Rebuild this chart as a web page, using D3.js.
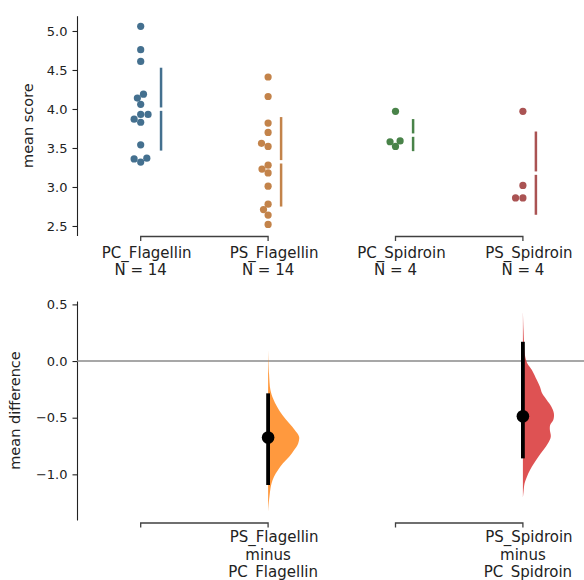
<!DOCTYPE html>
<html>
<head>
<meta charset="utf-8">
<script src="https://cdn.jsdelivr.net/npm/d3@7"></script>
<style>
  body { margin: 0; background: #fff; }
  text { font-family: "DejaVu Sans", sans-serif; fill: #222; }
</style>
</head>
<body>
<svg id="chart" width="584" height="580"></svg>
<script>
// ---- data -------------------------------------------------------------
const groups = ["PC_Flagellin", "PS_Flagellin", "PC_Spidroin", "PS_Spidroin"];
const pcFlagellin = [5.06, 4.76, 4.61, 4.19, 4.14, 4.06, 3.93, 3.93, 3.87, 3.83, 3.54, 3.37, 3.36, 3.32];
const psFlagellin = [4.41, 4.16, 3.82, 3.70, 3.56, 3.52, 3.28, 3.23, 3.18, 3.01, 2.78, 2.71, 2.64, 2.52];
const pcSpidroin = [3.97, 3.59, 3.58, 3.52];
const psSpidroin = [3.97, 3.02, 2.86, 2.86];
const groupValues = [pcFlagellin, psFlagellin, pcSpidroin, psSpidroin];
const groupColors = ["#1f77b4", "#ff7f0e", "#2ca02c", "#d62728"];

const rawTicks = [2.5, 3.0, 3.5, 4.0, 4.5, 5.0];
const rawLimits = [2.378, 5.196];
const diffTicks = [-1.0, -0.5, 0.0, 0.5];
const diffLimits = [-1.403, 0.53];

// control / test pairs (indices into groups)
const comparisons = [[0, 1], [2, 3]];
// 95% bootstrap confidence intervals of the mean difference
const ciLow = [-1.094, -0.859];
const ciHigh = [-0.285, 0.170];
// bootstrap distributions of the mean difference (relative density)
const flagDiffGrid = [0.10, -0.11, -0.256, -0.33, -0.403, -0.477, -0.55, -0.609, -0.668, -0.727,
  -0.786, -0.845, -0.903, -0.962, -1.021, -1.08, -1.168, -1.256, -1.33];
const flagDensity = [0, 0.03, 0.075, 0.16, 0.29, 0.46, 0.68, 0.86, 1.0, 0.97,
  0.84, 0.68, 0.48, 0.32, 0.19, 0.11, 0.055, 0.02, 0];
const spidDiffGrid = [0.435, 0.274, 0.141, 0.053, -0.02, -0.079, -0.168, -0.227, -0.285, -0.344,
  -0.403, -0.462, -0.521, -0.565, -0.609, -0.668, -0.726, -0.786, -0.845, -0.903,
  -0.962, -1.021, -1.079, -1.154, -1.21];
const spidDensity = [0, 0.02, 0.04, 0.065, 0.14, 0.29, 0.45, 0.55, 0.62, 0.77,
  0.92, 1.0, 0.98, 0.88, 0.87, 0.9, 0.81, 0.66, 0.5, 0.36,
  0.23, 0.13, 0.055, 0.02, 0];
const diffGrids = [flagDiffGrid, spidDiffGrid];
const diffDensities = [flagDensity, spidDensity];

// ---- layout -----------------------------------------------------------
const svg = d3.select("#chart");
const axisX = 77;
const x = d3.scalePoint().domain(groups).range([axisX, 586.6]).padding(0.5);
const yRaw = d3.scaleLinear().domain(rawLimits).range([235.5, 15.7]);
const yDiff = d3.scaleLinear().domain(diffLimits).range([520, 301]);
const fmt = d3.format(".1f");
const swarmColor = c => { const h = d3.hsl(c); h.s *= 0.5; return h.formatHex(); };
const dotR = 3.5;

function drawYAxis(scale, ticks, label, labelX) {
  const g = svg.append("g").attr("transform", `translate(${axisX},0)`)
    .call(d3.axisLeft(scale).tickValues(ticks).tickFormat(fmt).tickSize(4.5).tickPadding(5).tickSizeOuter(0));
  g.select(".domain").attr("stroke", "#222").attr("stroke-width", 1.1);
  g.selectAll(".tick line").attr("stroke", "#222").attr("stroke-width", 1.1);
  g.selectAll(".tick text").attr("font-size", 13).attr("fill", "#222")
    .style("font-family", "DejaVu Sans, sans-serif");
  const [r0, r1] = scale.range();
  svg.append("text")
    .attr("transform", `translate(${labelX},${(r0 + r1) / 2}) rotate(-90)`)
    .attr("text-anchor", "middle").attr("font-size", 14.5).text(label);
}

// seaborn-style beeswarm: points placed in ascending order, nearest free slot to the centre line
function beeswarm(values, yScale, r) {
  const sep = 2 * r;
  const order = d3.range(values.length).sort((a, b) => values[a] - values[b] || a - b);
  const placed = [];
  const out = new Array(values.length);
  order.forEach(i => {
    const y = yScale(values[i]);
    const nb = [];
    for (let k = placed.length - 1; k >= 0; k--) {
      if (Math.abs(placed[k].y - y) < sep) nb.unshift(placed[k]); else break;
    }
    const cands = [0];
    let leftFirst = true;
    nb.forEach(p => {
      const dy = y - p.y;
      const dx = Math.sqrt(Math.max(sep * sep - dy * dy, 0)) * 1.05;
      if (leftFirst) cands.push(p.x - dx, p.x + dx); else cands.push(p.x + dx, p.x - dx);
      leftFirst = !leftFirst;
    });
    const sorted = cands.map((cx, j) => ({ cx, j }))
      .sort((a, b) => Math.abs(a.cx) - Math.abs(b.cx) || a.j - b.j);
    let xNew = sorted[sorted.length - 1].cx;
    for (const c of sorted) {
      if (nb.every(p => (p.x - c.cx) ** 2 + (p.y - y) ** 2 >= sep * sep - 1e-9)) { xNew = c.cx; break; }
    }
    placed.push({ x: xNew, y });
    out[i] = { dx: xNew, y, v: values[i] };
  });
  return out;
}

// ---- top panel: raw data --------------------------------------------
drawYAxis(yRaw, rawTicks, "mean score", 33.3);

groups.forEach((name, gi) => {
  const vals = groupValues[gi];
  const cx = x(name);
  const col = swarmColor(groupColors[gi]);
  const pts = beeswarm(vals, yRaw, dotR);
  svg.append("g").selectAll("circle").data(pts).join("circle")
    .attr("cx", d => cx + d.dx).attr("cy", d => d.y).attr("r", 3.6).attr("fill", col);

  // mean ± SD as a gapped vertical line beside the swarm
  const m = d3.mean(vals), sd = d3.deviation(vals);
  const lx = cx + Math.max(0, d3.max(pts, d => d.dx)) + 13;
  const gap = 1.7;
  svg.append("line").attr("x1", lx).attr("x2", lx)
    .attr("y1", yRaw(m + sd)).attr("y2", yRaw(m) - gap)
    .attr("stroke", col).attr("stroke-width", 2.5);
  svg.append("line").attr("x1", lx).attr("x2", lx)
    .attr("y1", yRaw(m) + gap).attr("y2", yRaw(m - sd))
    .attr("stroke", col).attr("stroke-width", 2.5);

  // group label
  const t = svg.append("text").attr("text-anchor", "middle").attr("font-size", 15);
  t.append("tspan").attr("x", cx + 6).attr("y", 258.3).text(name);
  t.append("tspan").attr("x", cx).attr("y", 275).text(`N = ${vals.length}`);
});

function bracket(x0, x1, y, drop) {
  svg.append("path")
    .attr("d", `M${x0},${y + drop}V${y}H${x1}V${y + drop}`)
    .attr("fill", "none").attr("stroke", "#404040").attr("stroke-width", 1.3);
}
comparisons.forEach(([c, t]) => bracket(x(groups[c]), x(groups[t]), yRaw.range()[0] + 1, 4.5));

// ---- bottom panel: mean differences ---------------------------------
drawYAxis(yDiff, diffTicks, "mean difference", 20);

svg.append("line")
  .attr("x1", axisX).attr("x2", 584).attr("y1", yDiff(0)).attr("y2", yDiff(0))
  .attr("stroke", "#8a8a8a").attr("stroke-width", 1.4);

const wScale = d3.scaleLinear().domain([0, 1]).range([0, 31]);

comparisons.forEach(([c, t], k) => {
  const cx = x(groups[t]);
  const grid = diffGrids[k], dens = diffDensities[k];
  const area = d3.area()
    .y(i => yDiff(grid[i]))
    .x0(cx)
    .x1(i => cx + wScale(dens[i]))
    .curve(d3.curveCatmullRom);
  const base = d3.color(groupColors[t]);
  svg.append("path").attr("d", area(d3.range(grid.length)))
    .attr("fill", base).attr("fill-opacity", 0.8);

  const diff = d3.mean(groupValues[t]) - d3.mean(groupValues[c]);
  svg.append("line").attr("x1", cx).attr("x2", cx)
    .attr("y1", yDiff(ciHigh[k])).attr("y2", yDiff(ciLow[k]))
    .attr("stroke", "#000").attr("stroke-width", 3.8);
  svg.append("circle").attr("cx", cx).attr("cy", yDiff(diff)).attr("r", 6.3).attr("fill", "#000");

  bracket(x(groups[c]), cx, yDiff.range()[0] + 3, 4.5);

  const lab = svg.append("text").attr("text-anchor", "middle").attr("font-size", 15);
  lab.append("tspan").attr("x", cx + 6).attr("y", 542.3).text(groups[t]);
  lab.append("tspan").attr("x", cx).attr("y", 560).text("minus");
  lab.append("tspan").attr("x", cx + 5).attr("y", 577).text(groups[c]);
});
</script>
</body>
</html>
